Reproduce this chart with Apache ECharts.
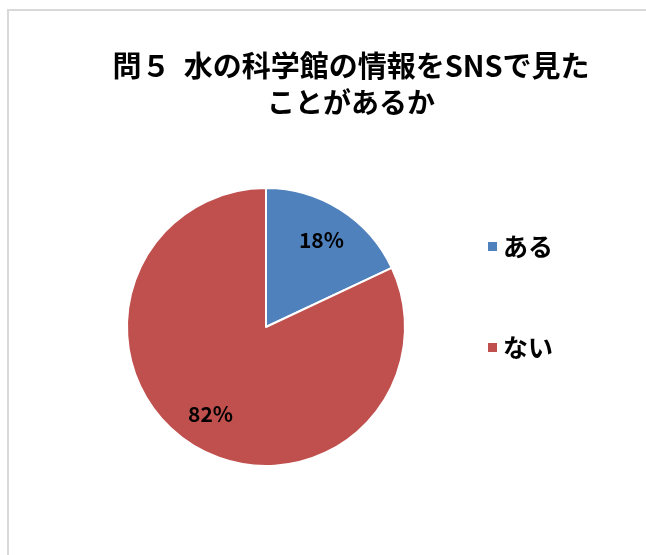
<!DOCTYPE html>
<html><head><meta charset="utf-8">
<script src="https://cdn.jsdelivr.net/npm/echarts@6/dist/echarts.min.js"></script>
<style>html,body{margin:0;padding:0;background:#fff}#c{width:646px;height:555px}</style>
</head><body><div id="c"></div>
<script>
const titleLines = ['問５  水の科学館の情報をSNSで見た', 'ことがあるか'];
const categories = ['ある', 'ない'];
const values = [18, 82];
const colors = ['#4f81bd', '#c0504d'];

const font = '"Noto Sans CJK JP", sans-serif';
const data = categories.map((c, i) => ({ name: c, value: values[i], itemStyle: { color: colors[i] } }));
const chart = echarts.init(document.getElementById('c'), null, { renderer: 'canvas' });
chart.setOption({
  animation: false,
  backgroundColor: '#fff',
  graphic: [{
    type: 'polyline', silent: true,
    shape: { points: [[8, 560], [8, 10], [660, 10]] },
    style: { stroke: '#d9d9d9', lineWidth: 2, fill: null }
  }],
  title: {
    text: '{a|' + titleLines[0] + '}\n{b|' + titleLines[1] + '}',
    left: 346, top: 43, textAlign: 'center',
    textStyle: {
      fontFamily: font, fontWeight: 'bold', fontSize: 28, color: '#000',
      rich: {
        a: { fontFamily: font, fontWeight: 'bold', fontSize: 29, lineHeight: 36, color: '#000' },
        b: { fontFamily: font, fontWeight: 'bold', fontSize: 28, lineHeight: 36, color: '#000' }
      }
    }
  },
  legend: {
    orient: 'vertical', left: 481, top: 229, itemGap: 76,
    itemWidth: 11, itemHeight: 11, icon: 'rect',
    data: categories,
    textStyle: { fontFamily: font, fontWeight: 'bold', fontSize: 25, color: '#000' }
  },
  series: [{
    type: 'pie', center: [266, 327], radius: [0, 139],
    startAngle: 90, clockwise: true, silent: true,
    itemStyle: { borderColor: '#fff', borderWidth: 2 },
    label: { show: false }, labelLine: { show: false },
    data: data
  }, {
    type: 'pie', center: [266, 327], radius: [62, 139],
    startAngle: 90, clockwise: true, silent: true,
    itemStyle: { color: 'rgba(0,0,0,0)', borderWidth: 0 },
    label: {
      show: true, position: 'inside', formatter: '{c}%',
      fontFamily: font, fontWeight: 'bold', fontSize: 21, color: '#000'
    },
    labelLine: { show: false },
    data: categories.map((c, i) => ({ name: c, value: values[i], itemStyle: { color: 'rgba(0,0,0,0)' } }))
  }]
});
</script></body></html>
